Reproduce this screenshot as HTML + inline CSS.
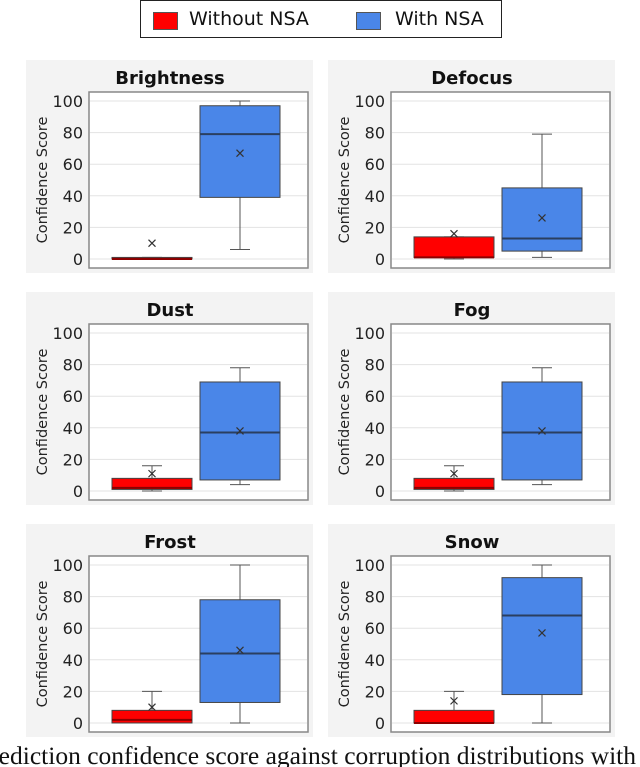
<!DOCTYPE html>
<html><head><meta charset="utf-8"><style>
body{margin:0;width:640px;height:767px;background:#fff;overflow:hidden;position:relative;font-family:"DejaVu Sans","Liberation Sans",sans-serif}
#legend{position:absolute;left:140px;top:0;width:362px;height:38px;border:1.5px solid #222;box-sizing:border-box;background:#fff}
.sw{position:absolute;top:11px;width:25px;height:18px;border:1px solid #555;box-sizing:border-box}
.lt{position:absolute;top:7px;font-size:19px;color:#111}
#capwrap{position:absolute;left:0;top:738px;width:640px;height:29px;overflow:hidden}
#caption{position:absolute;left:-24px;top:3px;font-family:"Liberation Serif",serif;font-size:25.5px;white-space:nowrap;color:#111}
</style></head><body>
<div id="legend">
<div class="sw" style="left:12px;background:#f00"></div>
<div class="lt" style="left:48px">Without NSA</div>
<div class="sw" style="left:215px;background:#4a86e8"></div>
<div class="lt" style="left:254px">With NSA</div>
</div>
<svg id="chart" width="640" height="767" style="position:absolute;left:0;top:0"></svg>
<div id="capwrap"><div id="caption">Prediction confidence score against corruption distributions with</div></div>
<script>
const titles=["Brightness","Defocus","Dust","Fog","Frost","Snow"];
// [min,q1,median,q3,max,mean]
const withoutNSA=[[0,0,0,1,1,10],[0,1,1,14,14,16],[0,1,2,8,16,11],[0,1,2,8,16,11],[0,0,2,8,20,10],[0,0,0,8,20,14]];
const withNSA=[[6,39,79,97,100,67],[1,5,13,45,79,26],[4,7,37,69,78,38],[4,7,37,69,78,38],[0,13,44,78,100,46],[0,18,68,92,100,57]];
const yTicks=[0,20,40,60,80,100];
const NS="http://www.w3.org/2000/svg";
const svg=document.getElementById('chart');
function mk(t,a,p){const e=document.createElementNS(NS,t);for(const k in a)e.setAttribute(k,a[k]);(p||svg).appendChild(e);return e;}
const origins=[[26,60],[328,60],[26,292],[328,292],[26,524],[328,524]];
titles.forEach((title,i)=>{
 const [ox,oy]=origins[i];
 const g=mk('g',{transform:`translate(${ox},${oy})`});
 
 
 const y=v=>199-v*1.58;
 const bg=mk('rect',{x:0,y:0,width:287,height:213,fill:'#f3f3f3'},g);
 
 const pa=mk('rect',{x:63,y:32,width:219,height:176,fill:'#fff',stroke:'#888','stroke-width':1.5},g);
 
 yTicks.forEach(t=>{
  const gl=mk('line',{x1:64,x2:281,y1:y(t),y2:y(t),stroke:'#e3e3e3','stroke-width':1},g);
  
  const tl=mk('text',{x:57,y:y(t)+6,'text-anchor':'end','font-size':16,fill:'#222'},g);
  
  tl.textContent=t;
 });
 const tt=mk('text',{x:144,y:24,'text-anchor':'middle','font-size':18,'font-weight':'bold',fill:'#111'},g);
 
 tt.textContent=title;
 const yl=mk('text',{x:0,y:0,transform:'translate(21,120) rotate(-90)','text-anchor':'middle','font-size':14.5,fill:'#222'},g);
 
 yl.textContent='Confidence Score';
 [[withoutNSA[i],126,'#f00','#8b0000'],[withNSA[i],214,'#4a86e8','#2a3f60']].forEach(([d,cx,fill,med],j)=>{
  const bx=mk('g',{},g);
  
  
  mk('line',{x1:cx,x2:cx,y1:y(d[4]),y2:y(d[3]),stroke:'#555'},bx);
  mk('line',{x1:cx,x2:cx,y1:y(d[1]),y2:y(d[0]),stroke:'#555'},bx);
  mk('line',{x1:cx-10,x2:cx+10,y1:y(d[4]),y2:y(d[4]),stroke:'#555'},bx);
  mk('line',{x1:cx-10,x2:cx+10,y1:y(d[0]),y2:y(d[0]),stroke:'#555'},bx);
  const h=Math.max(y(d[1])-y(d[3]),1.5);
  mk('rect',{x:cx-40,y:y(d[3]),width:80,height:h,fill:fill,stroke:'#444','stroke-width':1},bx);
  mk('line',{x1:cx-40,x2:cx+40,y1:y(d[2]),y2:y(d[2]),stroke:med,'stroke-width':2},bx);
  const m=y(d[5]);
  mk('path',{d:`M${cx-3.5},${m-3.5}L${cx+3.5},${m+3.5}M${cx-3.5},${m+3.5}L${cx+3.5},${m-3.5}`,stroke:'#333','stroke-width':1.2},bx);
 });
});
</script>
</body></html>
